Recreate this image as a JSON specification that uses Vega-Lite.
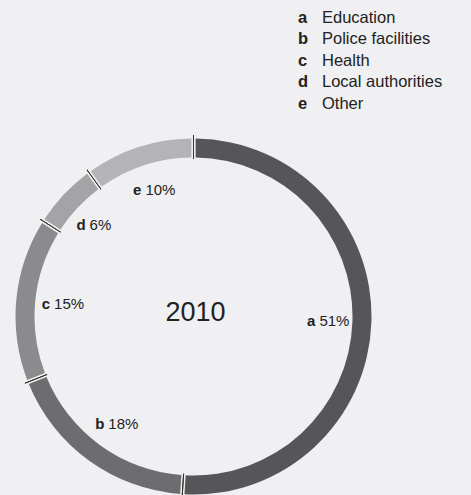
{
  "$schema": "https://vega.github.io/schema/vega-lite/v6.json",
  "width": 471,
  "height": 495,
  "padding": 0,
  "autosize": "none",
  "background": "#f0f0f2",
  "config": {"view": {"stroke": null}, "text": {"font": "Liberation Sans", "fill": "#222222"}},
  "datasets": {
    "slices": [
      {"key": "a", "name": "Education", "value": 0.51},
      {"key": "b", "name": "Police facilities", "value": 0.18},
      {"key": "c", "name": "Health", "value": 0.15},
      {"key": "d", "name": "Local authorities", "value": 0.06},
      {"key": "e", "name": "Other", "value": 0.10}
    ],
    "center": [{"year": "2010"}]
  },
  "data": {"name": "slices"},
  "resolve": {"scale": {"y": "independent"}},
  "layer": [
    {
      "mark": {"type": "arc", "outerRadius": 178, "innerRadius": 159, "padAngle": 0.018},
      "encoding": {
        "theta": {"field": "value", "type": "quantitative", "stack": true},
        "order": {"field": "key"},
        "color": {"field": "key", "type": "nominal", "legend": null,
          "scale": {"domain": ["a", "b", "c", "d", "e"], "range": ["#565658", "#6d6d6f", "#8b8b8d", "#a4a4a6", "#b4b4b6"]}},
        "x": {"datum": 0, "type": "quantitative", "scale": {"domain": [-193.5, 277.5], "nice": false, "zero": false}, "axis": null},
        "y": {"datum": 0, "type": "quantitative", "scale": {"domain": [-178.5, 316.5], "nice": false, "zero": false}, "axis": null}
      }
    },
    {
      "mark": {"type": "arc", "outerRadius": 183.5, "innerRadius": 155.5, "fillOpacity": 0, "stroke": "#333333", "strokeWidth": 1},
      "encoding": {
        "theta": {"field": "value", "type": "quantitative", "stack": true},
        "order": {"field": "key"},
        "x": {"datum": 0, "type": "quantitative"},
        "y": {"datum": 0, "type": "quantitative", "scale": {"domain": [-178.5, 316.5], "nice": false, "zero": false}, "axis": null}
      }
    },
    {
      "mark": {"type": "arc", "outerRadius": 186, "innerRadius": 181.8, "fill": "#f0f0f2"},
      "encoding": {
        "x": {"datum": 0, "type": "quantitative"},
        "y": {"datum": 0, "type": "quantitative", "scale": {"domain": [-178.5, 316.5], "nice": false, "zero": false}, "axis": null}
      }
    },
    {
      "mark": {"type": "arc", "outerRadius": 157, "innerRadius": 153, "fill": "#f0f0f2"},
      "encoding": {
        "x": {"datum": 0, "type": "quantitative"},
        "y": {"datum": 0, "type": "quantitative", "scale": {"domain": [-178.5, 316.5], "nice": false, "zero": false}, "axis": null}
      }
    },
    {
      "mark": {"type": "text", "radius": 133, "fontWeight": "bold", "fontSize": 15, "align": "right", "baseline": "middle", "dx": -11},
      "encoding": {
        "theta": {"field": "value", "type": "quantitative", "stack": true},
        "order": {"field": "key"},
        "text": {"field": "key"},
        "x": {"datum": 0, "type": "quantitative"},
        "y": {"datum": 0, "type": "quantitative", "scale": {"domain": [-178.5, 316.5], "nice": false, "zero": false}, "axis": null}
      }
    },
    {
      "mark": {"type": "text", "radius": 133, "fontSize": 15, "align": "left", "baseline": "middle", "dx": -7},
      "encoding": {
        "theta": {"field": "value", "type": "quantitative", "stack": true},
        "order": {"field": "key"},
        "text": {"field": "value", "type": "quantitative", "format": ".0%"},
        "x": {"datum": 0, "type": "quantitative"},
        "y": {"datum": 0, "type": "quantitative", "scale": {"domain": [-178.5, 316.5], "nice": false, "zero": false}, "axis": null}
      }
    },
    {
      "data": {"name": "center"},
      "mark": {"type": "text", "fontSize": 27, "align": "center", "baseline": "middle", "dx": 2, "dy": -4},
      "encoding": {
        "text": {"field": "year"},
        "x": {"datum": 0, "type": "quantitative"},
        "y": {"datum": 0, "type": "quantitative", "scale": {"domain": [-178.5, 316.5], "nice": false, "zero": false}, "axis": null}
      }
    },
    {
      "mark": {"type": "text", "fontSize": 16.5, "fontWeight": "bold", "align": "left", "baseline": "alphabetic"},
      "encoding": {
        "text": {"field": "key"},
        "x": {"datum": 104.5, "type": "quantitative"},
        "y": {"field": "key", "type": "ordinal", "scale": {"type": "point", "range": [23, 108.5], "padding": 0}, "axis": null}
      }
    },
    {
      "mark": {"type": "text", "fontSize": 16.5, "align": "left", "baseline": "alphabetic"},
      "encoding": {
        "text": {"field": "name"},
        "x": {"datum": 128.5, "type": "quantitative"},
        "y": {"field": "key", "type": "ordinal", "scale": {"type": "point", "range": [23, 108.5], "padding": 0}, "axis": null}
      }
    }
  ]
}
